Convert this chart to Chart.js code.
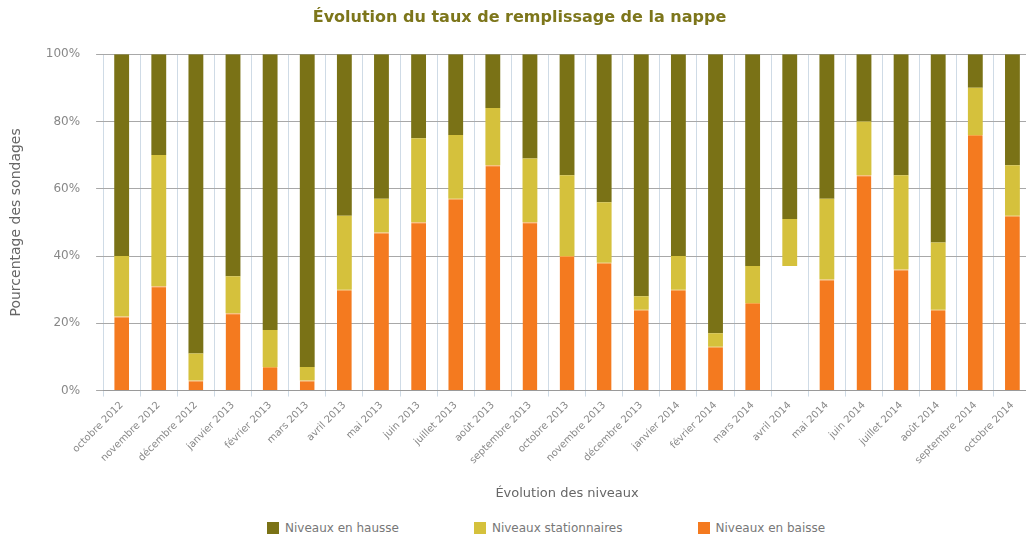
<!DOCTYPE html>
<html lang="fr">
<head>
<meta charset="utf-8">
<title>Évolution du taux de remplissage de la nappe</title>
<script src="https://cdn.jsdelivr.net/npm/chart.js@4.4.1/dist/chart.umd.min.js"></script>
<style>
  html, body { margin: 0; padding: 0; background: #fff; overflow: hidden; }
  /* le graphique déborde un peu à droite : la dernière colonne est coupée */
  #wrap { position: relative; width: 1031px; height: 503px; }
  #legende {
    display: flex; gap: 75px; margin-left: 267px; margin-top: 18px;
    font: 12px "DejaVu Sans", Verdana, sans-serif; color: #777;
  }
  #legende .item { display: flex; align-items: center; }
  #legende .box { width: 12px; height: 12px; margin-right: 6px; }
</style>
</head>
<body>
<div id="wrap"><canvas id="graphique"></canvas></div>
<div id="legende"></div>
<script>
const mois = [
  'octobre 2012', 'novembre 2012', 'décembre 2012', 'janvier 2013', 'février 2013',
  'mars 2013', 'avril 2013', 'mai 2013', 'juin 2013', 'juillet 2013', 'août 2013',
  'septembre 2013', 'octobre 2013', 'novembre 2013', 'décembre 2013', 'janvier 2014',
  'février 2014', 'mars 2014', 'avril 2014', 'mai 2014', 'juin 2014', 'juillet 2014',
  'août 2014', 'septembre 2014', 'octobre 2014'
];

// % de sondages par mois
const baisse       = [22, 31, 3, 23, 7, 3, 30, 47, 50, 57, 67, 50, 40, 38, 24, 30, 13, 26, 37, 33, 64, 36, 24, 76, 52];
const stationnaire = [18, 39, 8, 11, 11, 4, 22, 10, 25, 19, 17, 19, 24, 18, 4, 10, 4, 11, 14, 24, 16, 28, 20, 14, 15];
const hausse       = [60, 30, 89, 66, 82, 93, 48, 43, 25, 24, 16, 31, 36, 44, 72, 60, 83, 63, 49, 43, 20, 36, 56, 10, 33];

// mois où la part en baisse n'est pas renseignée (laissée en blanc)
const baisseNonRenseignee = ['avril 2014'];

const COUL_HAUSSE = '#7a7216';
const COUL_STAT   = '#d5c13c';
const COUL_BAISSE = '#f47a1f';

const vide = m => baisseNonRenseignee.includes(m);

const datasets = [
  {
    label: 'Niveaux en baisse',
    data: baisse,
    backgroundColor: mois.map(m => vide(m) ? 'rgba(0,0,0,0)' : COUL_BAISSE),
    borderColor: mois.map(m => vide(m) ? 'rgba(0,0,0,0)' : '#f6a547'),
    borderWidth: { top: 1, right: 0, bottom: 0, left: 0 },
    borderSkipped: false,
    legendColor: COUL_BAISSE
  },
  {
    label: 'Niveaux stationnaires',
    data: stationnaire,
    backgroundColor: COUL_STAT,
    legendColor: COUL_STAT
  },
  {
    label: 'Niveaux en hausse',
    data: hausse,
    backgroundColor: COUL_HAUSSE,
    legendColor: COUL_HAUSSE
  }
].map(d => Object.assign(d, { barPercentage: 0.4, categoryPercentage: 1 }));

Chart.defaults.font.family = '"DejaVu Sans", Verdana, sans-serif';

new Chart(document.getElementById('graphique'), {
  type: 'bar',
  data: { labels: mois, datasets },
  options: {
    responsive: true,
    maintainAspectRatio: false,
    animation: false,
    layout: { padding: { left: 8, right: 0, top: 4, bottom: 2 } },
    plugins: {
      title: {
        display: true,
        text: 'Évolution du taux de remplissage de la nappe',
        color: '#7d761b',
        font: { size: 16, weight: 'bold' },
        padding: { top: 4, bottom: 27 }
      },
      legend: { display: false }
    },
    scales: {
      x: {
        stacked: true,
        grid: { color: '#cfdbe6', tickLength: 6 },
        border: { color: '#9a9a9a' },
        ticks: { color: '#888', font: { size: 10 }, minRotation: 45, maxRotation: 45, autoSkip: false },
        title: {
          display: true, text: 'Évolution des niveaux', color: '#666',
          font: { size: 13 }, padding: { top: 16, bottom: 0 }
        }
      },
      y: {
        stacked: true,
        min: 0, max: 100,
        grid: { color: '#a8a8a8', tickLength: 7 },
        border: { display: false },
        ticks: { stepSize: 20, color: '#888', font: { size: 12 }, padding: 16, callback: v => v + '%' },
        title: {
          display: true, text: 'Pourcentage des sondages', color: '#666',
          font: { size: 14 }, padding: { top: 0, bottom: 5 }
        }
      }
    }
  }
});

// légende sous le graphique, dans l'ordre hausse / stationnaire / baisse
const legende = document.getElementById('legende');
datasets.slice().reverse().forEach(d => {
  const item = document.createElement('div');
  item.className = 'item';
  item.innerHTML = `<span class="box" style="background:${d.legendColor}"></span>${d.label}`;
  legende.appendChild(item);
});
</script>
</body>
</html>
